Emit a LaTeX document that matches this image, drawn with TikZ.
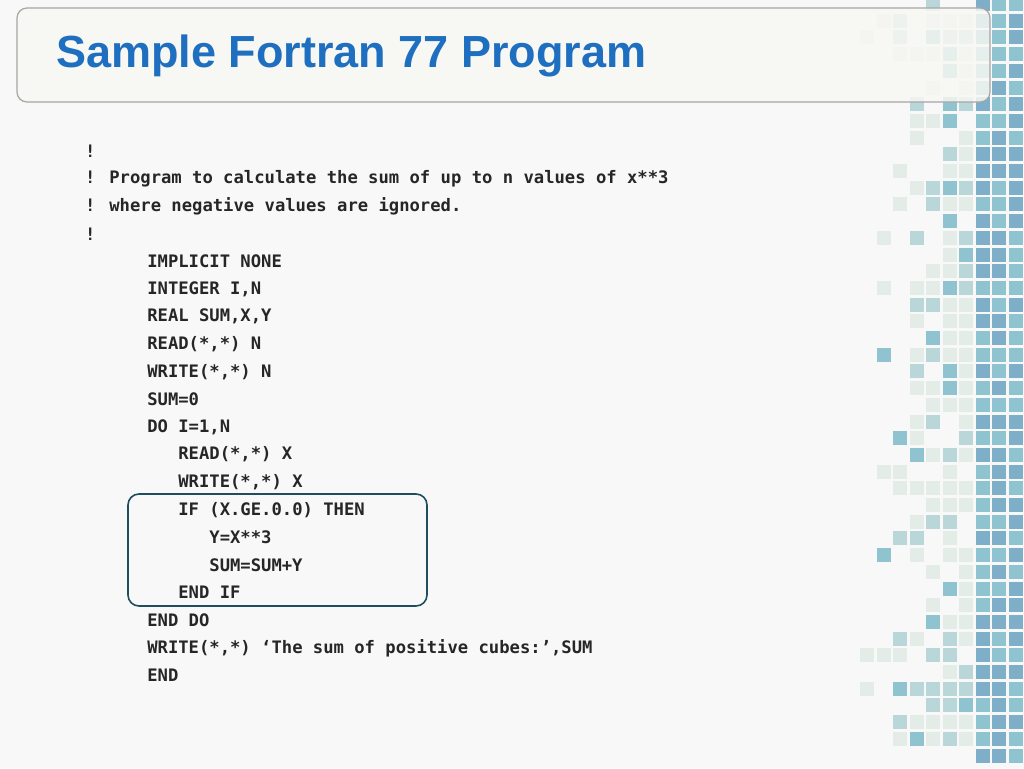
\documentclass[tikz,border=0pt]{standalone}
\usepackage{fontspec}
\setmainfont{Liberation Sans}
\newfontfamily\codefont{DejaVu Sans Mono}
\begin{document}
\begin{tikzpicture}[x=1pt,y=-1pt,
  codeline/.style={anchor=west,inner sep=0pt,font=\codefont\bfseries\fontsize{17.2}{19}\selectfont,text=black!85}]
\definecolor{bg}{HTML}{F8F8F8}
\definecolor{mdark}{HTML}{7FAEC8}
\definecolor{mteal}{HTML}{8FC3CF}
\definecolor{mmid}{HTML}{B9D6D8}
\definecolor{mlight}{HTML}{E3ECE6}
\definecolor{titleblue}{HTML}{1F6FC0}
\useasboundingbox (0,0) rectangle (1024,768);
\fill[bg] (0,0) rectangle (1024,768);
\pgfmathsetseed{11}
\foreach \i/\p in {0/0.06,1/0.18,2/0.35,3/0.5,4/0.6,5/0.72,6/0.85,7/1,8/1,9/1}{
  \foreach \j in {0,...,45}{
    \pgfmathsetmacro{\r}{rnd}
    \pgfmathsetmacro{\c}{rnd}
    \ifdim\r pt<\p pt
      \pgfmathsetmacro{\xx}{860+16.5*\i}
      \pgfmathsetmacro{\yy}{-3+16.7*\j}
      \ifnum\i>6
        \ifdim\c pt<0.5pt \def\col{mdark}\else\def\col{mteal}\fi
      \else
        \ifdim\c pt<0.12pt \def\col{mteal}\else
          \ifdim\c pt<0.4pt \def\col{mmid}\else\def\col{mlight}\fi\fi
      \fi
      \fill[\col] (\xx,\yy) rectangle ++(14,14);
    \fi
  }
}
\fill[white!92!yellow!70!gray!25,fill opacity=0.85,rounded corners=10pt] (17,8) rectangle (990,102);
\draw[gray!70,line width=1.2pt,rounded corners=10pt] (17,8) rectangle (990,102);
\node[anchor=west,inner sep=0pt,text=titleblue,font=\bfseries\fontsize{45}{50}\selectfont] (title) at (56,56) {Sample Fortran 77 Program};
\draw[draw={rgb,255:red,31;green,78;blue,95},line width=1.6pt,rounded corners=11pt] (128,494) rectangle (427,606);
\def\L{27.6}
\foreach \t/\ind [count=\k from 0] in {
 {!}/0,
 {! Program to calculate the sum of up to n values of x**3}/0,
 {! where negative values are ignored.}/0,
 {!}/0,
 {IMPLICIT NONE}/6,
 {INTEGER I,N}/6,
 {REAL SUM,X,Y}/6,
 {READ(*,*) N}/6,
 {WRITE(*,*) N}/6,
 {SUM=0}/6,
 {DO I=1,N}/6,
 {READ(*,*) X}/9,
 {WRITE(*,*) X}/9,
 {IF (X.GE.0.0) THEN}/9,
 {Y=X**3}/12,
 {SUM=SUM+Y}/12,
 {END IF}/9,
 {END DO}/6,
 {WRITE(*,*) ‘The sum of positive cubes:’,SUM}/6,
 {END}/6}{
  \node[codeline] (l\k) at ({85+10.35*\ind},{151+\L*\k}) {\t};
}
\end{tikzpicture}
\end{document}
